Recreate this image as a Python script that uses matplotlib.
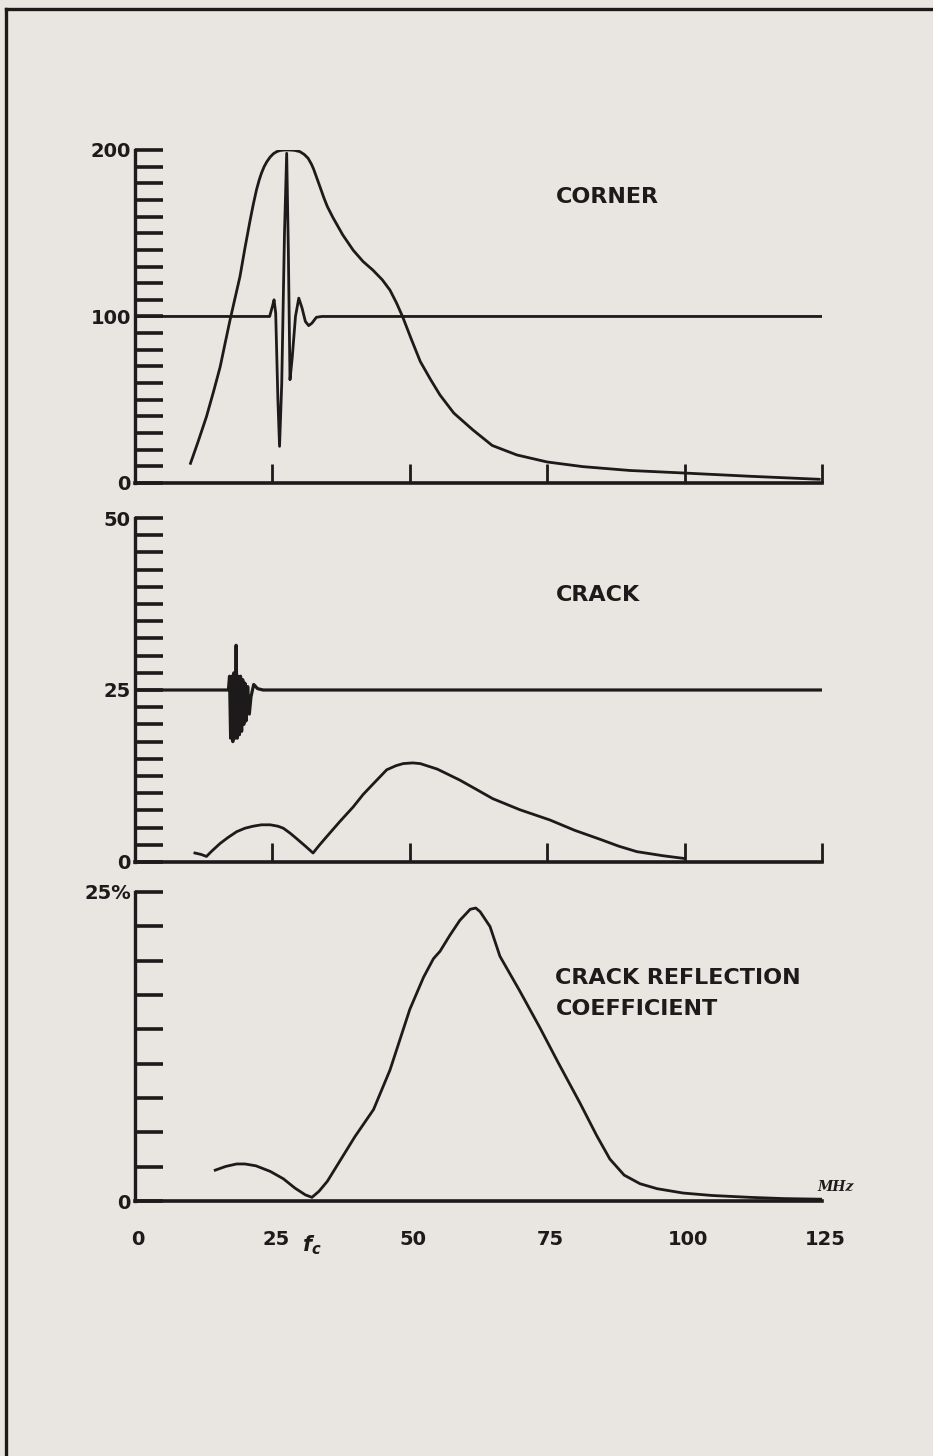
import matplotlib

matplotlib.use("Agg")

import matplotlib.pyplot as plt
import numpy as np
from matplotlib.lines import Line2D

# ==========================================================
# Data (frequency in MHz)
# ==========================================================

corner_freq = [
    10.1, 11.5, 13.0, 14.3, 15.5, 16.4, 17.3, 18.2, 19.1, 20.0,
    20.9, 21.5, 22.1, 22.6, 23.0, 23.5, 24.0, 24.6, 25.2, 25.8,
    26.4, 27.2, 28.0, 29.0, 30.0, 30.8, 31.5, 32.1, 32.5, 33.1,
    33.7, 34.4, 35.0, 36.0, 37.8, 39.7, 41.5, 43.3, 45.0, 46.4,
    47.6, 48.7, 50.2, 51.9, 53.8, 55.5, 58.0, 61.5, 65.0, 69.5,
    75.0, 81.5, 90.0, 99.7, 112.0, 124.5
]
corner_spectrum = [
    11.8, 25.0, 39.8, 55.0, 69.8, 84.0, 98.0, 111.0, 124.0, 141.0,
    157.0, 167.0, 176.0, 182.0, 186.0, 190.0, 193.0, 195.8, 197.8, 199.0,
    199.7, 200.0, 200.0, 199.8, 199.0, 197.3, 195.0, 191.5, 188.5, 183.0,
    177.5, 171.0, 166.0, 159.5, 149.0, 139.8, 133.0, 127.8, 122.0, 115.8,
    108.0, 99.8, 87.0, 73.0, 62.0, 52.8, 42.0, 31.8, 22.5, 16.8,
    12.6, 9.8, 7.5, 6.0, 4.0, 2.2
]

# echo waveform, drawn on the same axes around the 100 line
corner_pulse_t = [
    0.0, 24.5, 25.0, 25.3, 25.6, 26.0, 26.3, 26.7, 27.2, 27.6,
    27.9, 28.2, 28.6, 29.2, 29.8, 30.4, 31.0, 31.6, 32.2, 33.0,
    34.0, 125.0
]
corner_pulse = [
    100, 100, 106, 110, 102, 50, 22, 60, 150, 198,
    140, 62, 75, 100, 111, 105, 97, 94.5, 96, 99.5,
    100, 100
]

crack_freq = [
    10.9, 12.0, 13.0, 14.0, 15.5, 17.0, 18.5, 20.0, 21.5, 23.0,
    24.6, 26.0, 27.0, 28.2, 29.4, 31.0, 32.4, 33.5, 34.9, 37.3,
    39.7, 41.5, 43.4, 45.8, 47.5, 48.8, 50.5, 51.9, 55.0, 59.1,
    62.0, 65.1, 70.0, 75.5, 80.0, 84.6, 88.0, 91.3, 96.1, 100.0
]
crack_spectrum = [
    1.3, 1.1, 0.8, 1.6, 2.7, 3.6, 4.4, 4.9, 5.2, 5.4,
    5.4, 5.2, 4.9, 4.2, 3.4, 2.3, 1.3, 2.4, 3.7, 5.9,
    8.0, 9.8, 11.4, 13.4, 14.0, 14.3, 14.4, 14.3, 13.5, 11.9,
    10.6, 9.2, 7.6, 6.1, 4.6, 3.3, 2.3, 1.5, 0.9, 0.5
]

crack_pulse_t = [
    0.0, 17.0, 17.2, 17.4, 17.6, 17.8, 18.0, 18.2, 18.4, 18.6,
    18.8, 19.0, 19.2, 19.4, 19.6, 19.8, 20.0, 20.2, 20.5, 20.8,
    21.1, 21.6, 22.3, 23.3, 125.0
]
crack_pulse = [
    25, 25, 27, 18, 27, 17.5, 27.5, 18, 31.5, 18,
    27, 18.5, 27, 19, 26.5, 20, 26, 20.5, 25.5, 21.5,
    24, 25.8, 25.2, 25, 25
]

reflection_freq = [
    14.6, 16.5, 18.5, 20.0, 22.0, 24.6, 27.0, 29.1, 31.0, 32.2,
    33.5, 35.0, 37.5, 40.0, 43.4, 46.4, 50.0, 52.5, 54.3, 55.5,
    57.3, 59.1, 61.0, 62.0, 62.8, 64.6, 66.4, 70.0, 73.7, 77.0,
    81.0, 84.0, 86.4, 89.0, 91.9, 95.0, 99.7, 105.0, 111.9, 118.0,
    125.0
]
reflection_coeff = [
    2.5, 2.8, 3.0, 3.0, 2.85, 2.4, 1.8, 1.05, 0.5, 0.3,
    0.8, 1.6, 3.4, 5.2, 7.4, 10.6, 15.5, 18.1, 19.6, 20.2,
    21.5, 22.7, 23.6, 23.7, 23.4, 22.2, 19.8, 17.0, 14.0, 11.2,
    7.9, 5.3, 3.4, 2.1, 1.4, 1.0, 0.65, 0.45, 0.3, 0.2,
    0.15
]

cutoff_freq = 32.2

freq_ticks = [0, 25, 50, 75, 100, 125]
freq_labels = ["0", "25", "50", "75", "100", "125"]

# ==========================================================
# Style
# ==========================================================

PAPER = "#e9e5e0"
INK = "#1c1a1a"
LINE_WIDTH = 2.0

plt.rcParams["font.family"] = ["DejaVu Sans"]
plt.rcParams["font.weight"] = "bold"

fig = plt.figure(figsize=(9.33, 14.56), dpi=100, facecolor=PAPER)

# panel rectangles in figure fractions
ax_corner = fig.add_axes([0.1447, 0.6683, 0.7363, 0.2287])
ax_crack = fig.add_axes([0.1447, 0.4080, 0.7363, 0.2362])
ax_refl = fig.add_axes([0.1447, 0.1751, 0.7363, 0.2123])


def style_axes(ax, y_max, major, minor_step):
    """Bracket-style axes: left and bottom spines, inward ticks."""

    ax.set_facecolor(PAPER)
    ax.set_xlim(0, 125)
    ax.set_ylim(0, y_max)

    for side in ("top", "right"):
        ax.spines[side].set_visible(False)

    ax.spines["left"].set_linewidth(2.4)
    ax.spines["bottom"].set_linewidth(2.6)
    ax.spines["left"].set_color(INK)
    ax.spines["bottom"].set_color(INK)

    ax.set_yticks(major)
    ax.set_yticks(
        np.arange(0, y_max + minor_step / 2, minor_step),
        minor=True
    )

    ax.tick_params(
        axis="y",
        which="both",
        direction="in",
        length=20,
        width=2.6,
        color=INK,
        labelcolor=INK,
        labelsize=14,
        pad=3
    )


TITLE_STYLE = dict(fontsize=16, color=INK, va="center", fontweight="bold")

# ==========================================================
# Corner
# ==========================================================

style_axes(ax_corner, 200, [0, 100, 200], 10)

ax_corner.plot(corner_pulse_t, corner_pulse, color=INK, lw=LINE_WIDTH)
ax_corner.plot(corner_freq, corner_spectrum, color=INK, lw=LINE_WIDTH)

ax_corner.set_xticks(freq_ticks[1:])
ax_corner.tick_params(
    axis="x", direction="in", length=14, width=2,
    color=INK, labelbottom=False
)

ax_corner.text(76.5, 172, "CORNER", **TITLE_STYLE)

# ==========================================================
# Crack
# ==========================================================

style_axes(ax_crack, 50, [0, 25, 50], 2.5)

ax_crack.plot(crack_pulse_t, crack_pulse, color=INK, lw=2.3)
ax_crack.plot(crack_freq, crack_spectrum, color=INK, lw=LINE_WIDTH)

ax_crack.set_xticks(freq_ticks[1:])
ax_crack.tick_params(
    axis="x", direction="in", length=14, width=2,
    color=INK, labelbottom=False
)

ax_crack.text(76.5, 38.8, "CRACK", **TITLE_STYLE)

# ==========================================================
# Crack reflection coefficient
# ==========================================================

style_axes(ax_refl, 25, [0, 25], 25 / 9)
ax_refl.set_yticklabels(["0", "25%"])

ax_refl.plot(reflection_freq, reflection_coeff, color=INK, lw=LINE_WIDTH)

# frequency labels under the bottom panel
ax_refl.set_xticks([])
for freq, label in zip(freq_ticks, freq_labels):
    ax_refl.text(
        freq + 0.6, -3.1, label, fontsize=14, color=INK,
        ha="center", va="center", clip_on=False
    )

ax_refl.text(
    76.5, 16.8, "CRACK REFLECTION\nCOEFFICIENT",
    linespacing=1.7, **TITLE_STYLE
)

ax_refl.text(
    127.5, 1.1, "MHz", fontsize=10, style="italic",
    family="DejaVu Serif", color=INK, ha="center", va="center",
    clip_on=False
)

ax_refl.text(
    cutoff_freq, -3.6, "$f_c$", fontsize=15, color=INK,
    ha="center", va="center", clip_on=False
)

# ==========================================================
# Page frame
# ==========================================================

frame_top = 1 - 9 / 1456

fig.add_artist(Line2D(
    [0.006, 1.0], [frame_top, frame_top],
    transform=fig.transFigure, color=INK, lw=2.4
))

fig.add_artist(Line2D(
    [0.006, 0.006], [0.0, frame_top],
    transform=fig.transFigure, color=INK, lw=2.4
))

fig.savefig("out.png", dpi=100, facecolor=PAPER)
